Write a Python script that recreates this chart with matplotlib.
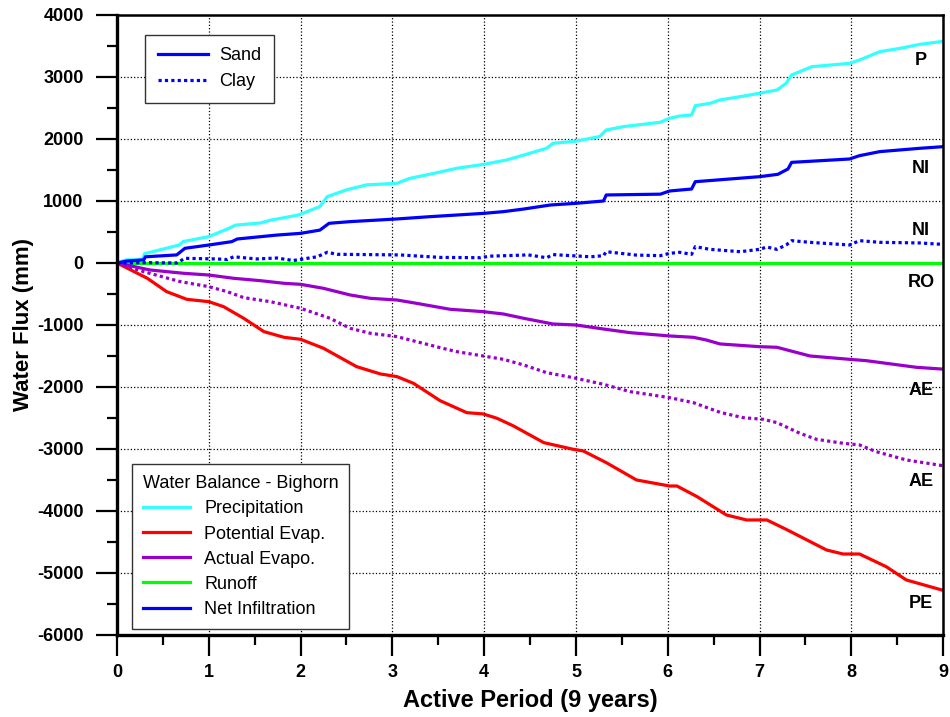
import matplotlib
matplotlib.use("Agg")
import matplotlib.pyplot as plt
from matplotlib.lines import Line2D
from matplotlib.ticker import MultipleLocator

plt.rcParams['axes.unicode_minus'] = False

# cumulative water balance, Bighorn (mm) vs. active period (years)
p_x = [0, 0.1, 0.28, 0.30, 0.68, 0.72, 1.0, 1.22, 1.29, 1.56, 1.67, 1.89, 1.98, 2.21, 2.29,
       2.5, 2.72, 3.05, 3.19, 3.45, 3.70, 3.99, 4.24, 4.43, 4.68, 4.75, 5.0, 5.26, 5.33,
       5.52, 5.92, 6.02, 6.13, 6.26, 6.30, 6.46, 6.57, 6.79, 7.0, 7.19, 7.29, 7.35, 7.57,
       7.98, 8.09, 8.31, 8.53, 8.75, 9.0]
p_y = [0, 50, 60, 150, 290, 345, 425, 560, 610, 645, 690, 750, 775, 910, 1070,
       1180, 1260, 1285, 1365, 1445, 1527, 1590, 1660, 1740, 1850, 1930, 1965, 2040, 2145,
       2200, 2270, 2333, 2370, 2387, 2537, 2575, 2630, 2683, 2737, 2790, 2898, 3032, 3166,
       3220, 3274, 3408, 3462, 3527, 3575]

ni_sand_x = [0, 0.1, 0.29, 0.31, 0.65, 0.74, 1.0, 1.25, 1.31, 1.74, 2.0, 2.21, 2.31, 2.54,
             3.05, 3.41, 3.99, 4.21, 4.43, 4.72, 5.0, 5.30, 5.33, 5.92, 6.02, 6.26, 6.30,
             7.0, 7.20, 7.31, 7.35, 7.98, 8.09, 8.31, 8.75, 9.0]
ni_sand_y = [0, 30, 50, 100, 130, 237, 290, 344, 387, 450, 478, 530, 640, 667,
             710, 747, 800, 828, 870, 935, 962, 1000, 1097, 1110, 1161, 1193, 1311,
             1392, 1430, 1516, 1623, 1677, 1731, 1796, 1850, 1876]

ni_clay_x = [0, 0.33, 0.65, 0.74, 1.09, 1.20, 1.27, 1.52, 1.74, 1.92, 2.18, 2.29, 2.40,
             3.08, 3.52, 3.96, 4.06, 4.43, 4.46, 4.68, 4.75, 5.16, 5.30, 5.33, 5.66, 5.92,
             6.02, 6.13, 6.26, 6.30, 6.46, 6.79, 7.0, 7.08, 7.19, 7.29, 7.35, 7.55, 7.98,
             8.09, 8.31, 8.75, 9.0]
ni_clay_y = [0, 5, 0, 75, 65, 55, 100, 65, 80, 40, 100, 172, 140,
             130, 90, 85, 110, 127, 135, 85, 135, 100, 118, 182, 127, 118,
             155, 172, 140, 263, 220, 182, 220, 258, 220, 290, 360, 333, 290,
             360, 333, 323, 300]

ae_sand_x = [0, 0.36, 0.73, 1.0, 1.27, 1.56, 1.82, 2.0, 2.25, 2.54, 2.76, 3.05, 3.26, 3.63,
             3.99, 4.21, 4.43, 4.75, 5.0, 5.30, 5.59, 6.02, 6.28, 6.42, 6.57, 7.0, 7.19,
             7.55, 7.98, 8.16, 8.71, 9.0]
ae_sand_y = [0, -113, -167, -194, -247, -285, -328, -344, -409, -516, -570, -597, -650, -747,
             -785, -823, -892, -984, -1000, -1065, -1124, -1177, -1199, -1242, -1306, -1350,
             -1360, -1500, -1554, -1575, -1683, -1712]

ae_clay_x = [0, 0.29, 0.69, 1.0, 1.20, 1.38, 1.67, 2.0, 2.32, 2.54, 2.76, 3.05, 3.52, 3.70,
             3.99, 4.21, 4.43, 4.68, 4.97, 5.30, 5.59, 6.02, 6.28, 6.57, 6.82, 7.04, 7.19,
             7.44, 7.62, 7.91, 8.09, 8.27, 8.60, 9.0]
ae_clay_y = [0, -140, -301, -382, -462, -559, -624, -731, -892, -1054, -1134, -1188, -1366,
             -1430, -1500, -1554, -1645, -1769, -1850, -1957, -2075, -2172, -2253, -2409,
             -2495, -2521, -2575, -2747, -2844, -2908, -2935, -3043, -3177, -3270]

pe_x = [0, 0.33, 0.54, 0.76, 1.0, 1.16, 1.38, 1.60, 1.82, 2.0, 2.25, 2.61, 2.87, 3.05, 3.23,
        3.52, 3.81, 3.99, 4.14, 4.32, 4.65, 4.97, 5.08, 5.33, 5.66, 6.02, 6.10, 6.32, 6.64,
        6.86, 7.08, 7.29, 7.73, 7.91, 8.09, 8.38, 8.60, 9.0]
pe_y = [0, -247, -462, -586, -624, -704, -892, -1107, -1199, -1231, -1376, -1672, -1790,
        -1833, -1941, -2221, -2414, -2435, -2505, -2629, -2898, -3005, -3032, -3220, -3500,
        -3597, -3597, -3769, -4065, -4145, -4145, -4296, -4629, -4694, -4694, -4898, -5113,
        -5280]

ro_x = [0, 9]
ro_y = [0, 0]

end_labels = ['P', 'NI', 'NI', 'RO', 'AE', 'AE', 'PE']
end_label_y = [3270, 1530, 530, -320, -2050, -3520, -5500]

CYAN = '#33ffff'
RED = '#ff0000'
PURPLE = '#9900cc'
GREEN = '#00ff00'
BLUE = '#0000ff'
DOT = (0, (1, 1))

FONT = ['Liberation Sans', 'DejaVu Sans']


def main():
    fig = plt.figure(figsize=(9.5, 7.17), dpi=100)
    ax = fig.add_axes([0.1232, 0.1144, 0.8695, 0.8647])

    lw = 2.3
    ax.plot(ro_x, ro_y, color=GREEN, lw=lw)
    ax.plot(p_x, p_y, color=CYAN, lw=lw)
    ax.plot(pe_x, pe_y, color=RED, lw=lw)
    ax.plot(ae_sand_x, ae_sand_y, color=PURPLE, lw=lw)
    ax.plot(ae_clay_x, ae_clay_y, color=PURPLE, lw=lw, ls=DOT)
    ax.plot(ni_sand_x, ni_sand_y, color=BLUE, lw=lw)
    ax.plot(ni_clay_x, ni_clay_y, color=BLUE, lw=lw, ls=DOT)

    ax.set_xlim(0, 9)
    ax.set_ylim(-6000, 4000)
    ax.xaxis.set_major_locator(MultipleLocator(1))
    ax.xaxis.set_minor_locator(MultipleLocator(0.5))
    ax.yaxis.set_major_locator(MultipleLocator(1000))
    ax.yaxis.set_minor_locator(MultipleLocator(500))
    ax.tick_params(which='major', direction='out', length=15, width=1.6)
    ax.tick_params(which='minor', direction='out', length=7.5, width=1.6)
    ax.tick_params(axis='x', which='major', pad=6)
    ax.tick_params(axis='y', which='major', pad=9)
    ax.grid(True, which='major', ls=':', color='black', lw=0.9)
    for side in ['left', 'bottom']:
        ax.spines[side].set_linewidth(2.4)
    for side in ['top', 'right']:
        ax.spines[side].set_linewidth(1.8)

    for lbl in ax.get_xticklabels() + ax.get_yticklabels():
        lbl.set_fontfamily(FONT)
        lbl.set_fontweight('bold')
        lbl.set_fontsize(13)

    ax.set_xlabel('Active Period (9 years)', fontsize=17, fontweight='bold',
                  family=FONT, labelpad=6)
    ax.set_ylabel('Water Flux (mm)', fontsize=16, fontweight='bold',
                  family=FONT, labelpad=2)

    for name, yv in zip(end_labels, end_label_y):
        ax.text(8.76, yv, name, ha='center', va='center', fontsize=13,
                fontweight='bold', family=FONT)

    # soil type legend
    h1 = [Line2D([], [], color=BLUE, lw=lw),
          Line2D([], [], color=BLUE, lw=lw, ls=DOT)]
    leg1 = ax.legend(h1, ['Sand', 'Clay'], loc='upper left',
                     bbox_to_anchor=(0.034, 0.968), borderaxespad=0,
                     handlelength=2.8, handletextpad=0.6, borderpad=0.7,
                     labelspacing=0.5, fancybox=False, framealpha=1,
                     edgecolor='#333333', prop={'family': FONT, 'size': 13})
    leg1.get_frame().set_linewidth(1.0)
    ax.add_artist(leg1)

    # water balance legend
    h2 = [Line2D([], [], color=c, lw=lw) for c in [CYAN, RED, PURPLE, GREEN, BLUE]]
    leg2 = ax.legend(h2, ['Precipitation', 'Potential Evap.', 'Actual Evapo.', 'Runoff',
                          'Net Infiltration'],
                     loc='lower left', bbox_to_anchor=(0.018, 0.01), borderaxespad=0,
                     title='Water Balance - Bighorn', alignment='left',
                     handlelength=2.6, labelspacing=0.45, borderpad=0.6,
                     fancybox=False, framealpha=1, edgecolor='#333333',
                     prop={'family': FONT, 'size': 13},
                     title_fontproperties={'family': FONT, 'size': 13})
    leg2.get_frame().set_linewidth(1.0)

    fig.savefig('out.png', dpi=100)


if __name__ == "__main__":
    main()
